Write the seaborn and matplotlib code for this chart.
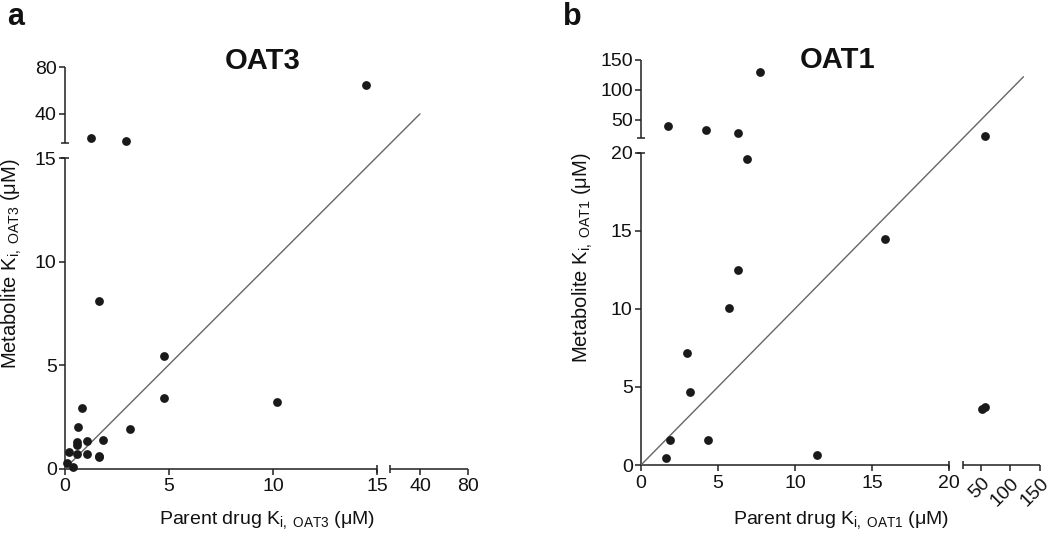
import numpy as np
import matplotlib
matplotlib.use("Agg")
import matplotlib.pyplot as plt
import seaborn as sns

# ---------------- data ----------------
# Panel a: OAT3
oat3_parent = [1.63, 4.74, 4.74, 10.17, 3.12, 0.82, 0.62, 0.60, 0.60, 1.04, 1.81,
               0.19, 0.56, 1.04, 1.65, 1.65, 0.08, 0.37, 1.27, 2.95, 14.46]
oat3_metab = [8.08, 5.43, 3.43, 3.20, 1.91, 2.91, 2.02, 1.30, 1.14, 1.35, 1.36,
              0.80, 0.69, 0.72, 0.62, 0.54, 0.28, 0.07, 19.5, 16.4, 64.8]
oat3_identity = [0, 40]
oat3_ticks = [0, 5, 10, 15, 40, 80]

# Panel b: OAT1
oat1_parent = [6.28, 5.69, 3.01, 3.20, 1.90, 1.64, 4.33, 11.39, 51.7, 57.3,
               15.8, 6.86, 1.73, 4.20, 6.28, 7.73, 56.8]
oat1_metab = [12.5, 10.08, 7.16, 4.68, 1.58, 0.45, 1.60, 0.66, 3.6, 3.7,
              14.5, 19.6, 40.5, 33.8, 27.8, 130.5, 23.3]
oat1_identity = [0, 122]
oat1_ticks = [0, 5, 10, 15, 20, 50, 100, 150]

# ---------------- style ----------------
sns.set_theme(style="ticks")
plt.rcParams["font.family"] = ["Liberation Sans", "DejaVu Sans"]
plt.rcParams["mathtext.fontset"] = "custom"
plt.rcParams["mathtext.rm"] = "Liberation Sans"
plt.rcParams["mathtext.it"] = "Liberation Sans:italic"
plt.rcParams["mathtext.bf"] = "Liberation Sans:bold"

W, H = 1050, 534
AXC = "#231f20"
DOT = "#1a1a1a"
TXT = "#111111"
LW = 1.1

fig = plt.figure(figsize=(W / 100, H / 100), dpi=100)


def frac(x, y):
    return x / W, 1 - y / H


def broken(b, s1, gap, s2):
    def fwd(v):
        v = np.asarray(v, dtype=float)
        return np.where(v <= b, v * s1, b * s1 + gap + (v - b) * s2)

    def inv(t):
        t = np.asarray(t, dtype=float)
        return np.where(t <= b * s1, t / s1, b + (t - b * s1 - gap) / s2)

    return fwd, inv


def make_panel(rect, xs, ys, ident, ticks, xbreak, ybreak, xmax, ymax,
               xscale, yscale):
    ax = fig.add_axes(rect)
    sns.scatterplot(x=xs, y=ys, ax=ax, s=40, color=DOT, linewidth=0,
                    clip_on=False, zorder=5)
    ax.plot(ident, ident, color="#666666", lw=1.0, zorder=3)
    ax.set_xscale("function", functions=broken(xbreak, *xscale))
    ax.set_yscale("function", functions=broken(ybreak, *yscale))
    for s in ax.spines.values():
        s.set_visible(False)
    xt = ax.get_xaxis_transform()
    yt = ax.get_yaxis_transform()
    eps = 1e-6
    kw = dict(color=AXC, lw=LW, clip_on=False, solid_capstyle="butt")
    ax.plot([0, xbreak], [0, 0], transform=xt, **kw)
    ax.plot([xbreak + eps, xmax], [0, 0], transform=xt, **kw)
    ax.plot([0, 0], [0, ybreak], transform=yt, **kw)
    ax.plot([0, 0], [ybreak + eps, ymax], transform=yt, **kw)
    ax.plot([xbreak, xbreak + eps], [0, 0], transform=xt, ls="none",
            marker="|", ms=6, mew=LW, color=AXC, clip_on=False)
    ax.plot([0, 0], [ybreak, ybreak + eps], transform=yt, ls="none",
            marker="_", ms=6, mew=LW, color=AXC, clip_on=False)
    ax.set_xticks(ticks)
    ax.set_xticklabels([str(t) for t in ticks])
    ax.set_yticks(ticks)
    ax.set_yticklabels([str(t) for t in ticks])
    ax.minorticks_off()
    ax.tick_params(axis="both", direction="out", length=4.5, width=LW,
                   color=AXC, labelsize=14, labelcolor=TXT)
    ax.tick_params(axis="x", pad=2.5)
    ax.tick_params(axis="y", pad=1.5)
    ax.set_xlim(0, xmax)
    ax.set_ylim(0, ymax)
    ax.set_facecolor("none")
    ax.grid(False)
    return ax


# panel a
axa = make_panel([65 / W, (H - 468.5) / H, 403 / W, 401.5 / H],
                 oat3_parent, oat3_metab, oat3_identity, oat3_ticks,
                 15, 15, 80, 80, (20.8, 13, 1.2), (20.67, 15, 1.17))
# panel b
axb = make_panel([641 / W, (H - 465) / H, 399 / W, 405 / H],
                 oat1_parent, oat1_metab, oat1_identity, oat1_ticks,
                 20, 20, 150, 150, (15.4, 14, 0.59), (15.65, 15, 0.6))
for lbl in axb.get_xticklabels()[5:]:
    lbl.set_rotation(45)
    lbl.set_ha("right")
    lbl.set_va("top")
    lbl.set_rotation_mode("anchor")

# titles and labels
fig.text(*frac(262.5, 69), "OAT3", ha="center", va="baseline",
         fontsize=21, fontweight="bold", color=TXT)
fig.text(*frac(837.5, 68), "OAT1", ha="center", va="baseline",
         fontsize=21, fontweight="bold", color=TXT)
fig.text(*frac(7, 25), "a", ha="left", va="baseline", fontsize=22,
         fontweight="bold", color=TXT)
fig.text(*frac(563, 25), "b", ha="left", va="baseline", fontsize=22,
         fontweight="bold", color=TXT)

fig.text(*frac(267, 524), r"Parent drug K$_{\mathrm{i,\ OAT3}}$ (μM)",
         ha="center", va="baseline", fontsize=14, color=TXT)
fig.text(*frac(841, 524), r"Parent drug K$_{\mathrm{i,\ OAT1}}$ (μM)",
         ha="center", va="baseline", fontsize=14, color=TXT)
fig.text(*frac(12, 264), r"Metabolite K$_{\mathrm{i,\ OAT3}}$ (μM)",
         ha="center", va="center", rotation=90, fontsize=14.5, color=TXT)
fig.text(*frac(583, 258), r"Metabolite K$_{\mathrm{i,\ OAT1}}$ (μM)",
         ha="center", va="center", rotation=90, fontsize=14.5, color=TXT)

fig.savefig("out.png", dpi=100, facecolor="white")
